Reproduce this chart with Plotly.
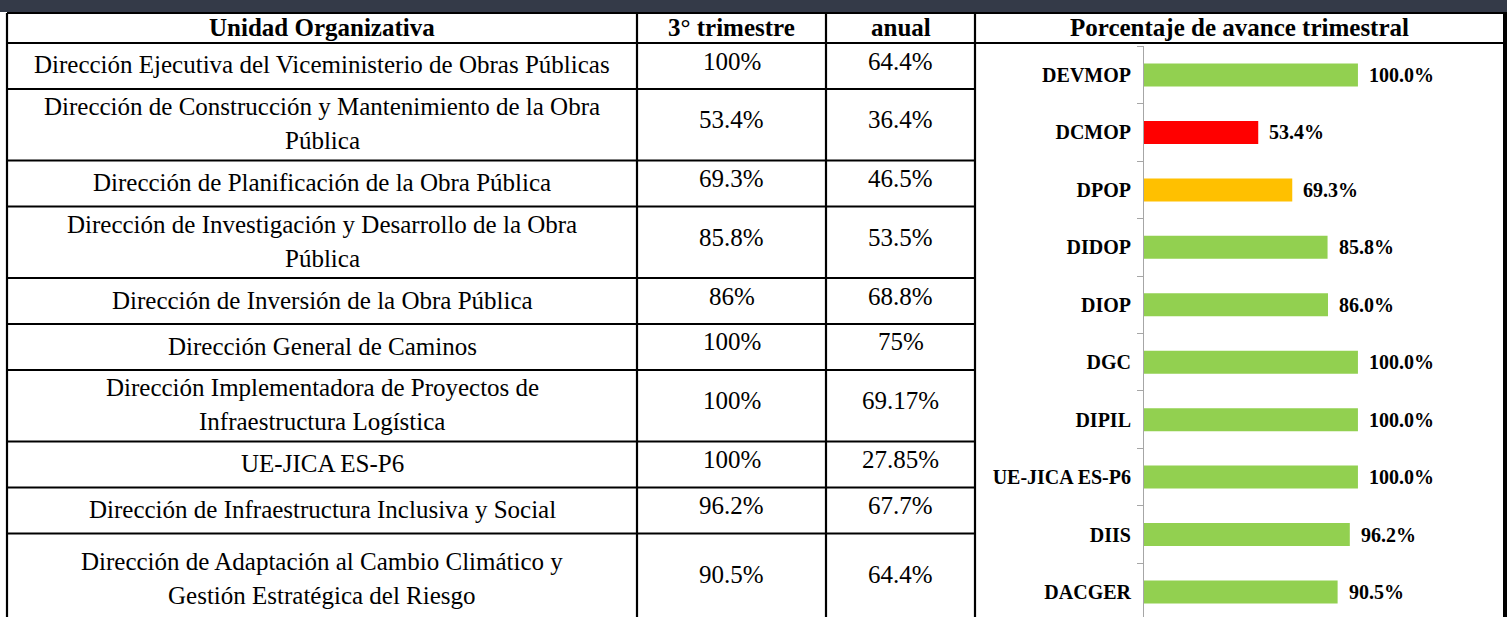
import plotly.graph_objects as go

# ---------------- data ----------------
headers = ["Unidad Organizativa", "3° trimestre", "anual", "Porcentaje de avance trimestral"]

units = [
    "Dirección Ejecutiva del Viceministerio de Obras Públicas",
    "Dirección de Construcción y Mantenimiento de la Obra<br>Pública",
    "Dirección de Planificación de la Obra Pública",
    "Dirección de Investigación y Desarrollo de la Obra<br>Pública",
    "Dirección de Inversión de la Obra Pública",
    "Dirección General de Caminos",
    "Dirección Implementadora de Proyectos de<br>Infraestructura Logística",
    "UE-JICA ES-P6",
    "Dirección de Infraestructura Inclusiva y Social",
    "Dirección de Adaptación al Cambio Climático y<br>Gestión Estratégica del Riesgo",
]
abbrev = ["DEVMOP", "DCMOP", "DPOP", "DIDOP", "DIOP", "DGC", "DIPIL",
          "UE-JICA ES-P6", "DIIS", "DACGER"]
q3 = [100, 53.4, 69.3, 85.8, 86, 100, 100, 100, 96.2, 90.5]
annual = [64.4, 36.4, 46.5, 53.5, 68.8, 75, 69.17, 27.85, 67.7, 64.4]

# ---------------- style ----------------
GREEN, RED, AMBER = "#92D050", "#FF0000", "#FFC000"
bar_colors = [GREEN, RED, AMBER, GREEN, GREEN, GREEN, GREEN, GREEN, GREEN, GREEN]

W, H = 1507, 617
COL_X = [7, 637, 826, 975, 1503]
BAND_H = 12
HEAD_TOP, HEAD_BOT = 13, 43
ROW_H_1, ROW_H_2, ROW_H_LAST = 46, 71.5, 92
LINE_GAP = 34
SERIF = "Liberation Serif, Times New Roman, serif"
BODY_SIZE, HEAD_SIZE, CHART_SIZE = 25, 25, 20
LINE_W = 2.2


def px(x):
    return x / W


def py(y):
    return 1 - y / H


fig = go.Figure()

# bar chart (right column)
fig.add_trace(go.Bar(
    x=q3, y=abbrev, orientation="h", width=0.4,
    marker=dict(color=bar_colors, line=dict(width=0)),
    hoverinfo="skip", showlegend=False,
))

shapes = []
annotations = []

# dark top band
shapes.append(dict(type="rect", xref="paper", yref="paper", x0=0, x1=1,
                   y0=py(BAND_H), y1=1, fillcolor="#343a48", line=dict(width=0),
                   layer="below"))


def hline(y, x0, x1):
    shapes.append(dict(type="line", xref="paper", yref="paper", x0=px(x0), x1=px(x1),
                       y0=py(y), y1=py(y), line=dict(color="black", width=LINE_W)))


def vline(x, y0, y1):
    shapes.append(dict(type="line", xref="paper", yref="paper", x0=px(x), x1=px(x),
                       y0=py(y0), y1=py(y1), line=dict(color="black", width=LINE_W)))


def text(x, y, s, size, bold=False):
    annotations.append(dict(xref="paper", yref="paper", x=px(x), y=py(y), text=s,
                            showarrow=False, xanchor="center", yanchor="middle",
                            font=dict(family=SERIF, size=size, color="black",
                                      weight="bold" if bold else "normal")))


# header row
hline(HEAD_TOP, COL_X[0], W)
hline(HEAD_BOT, COL_X[0], COL_X[-1])
for i, h in enumerate(headers):
    cx = (COL_X[i] + COL_X[i + 1]) / 2
    text(cx, (HEAD_TOP + HEAD_BOT) / 2, h, HEAD_SIZE, bold=True)

# body rows
top = HEAD_BOT
for r, name in enumerate(units):
    lines = name.split("<br>")
    if r == len(units) - 1:
        h = ROW_H_LAST
    else:
        h = ROW_H_1 if len(lines) == 1 else ROW_H_2
    cy = top + h / 2
    for k, ln in enumerate(lines):
        ly = cy + (k - (len(lines) - 1) / 2) * LINE_GAP - 1
        text((COL_X[0] + COL_X[1]) / 2, ly, ln, BODY_SIZE)
    text((COL_X[1] + COL_X[2]) / 2, cy - 5, f"{q3[r]:g}%", BODY_SIZE)
    text((COL_X[2] + COL_X[3]) / 2, cy - 5, f"{annual[r]:g}%", BODY_SIZE)
    top += h
    if r < len(units) - 1:
        hline(top, COL_X[0], COL_X[3])

# vertical borders
for x in COL_X[:4]:
    vline(x, HEAD_TOP, H)
shapes.append(dict(type="rect", xref="paper", yref="paper", x0=px(COL_X[-1]), x1=1,
                   y0=0, y1=py(HEAD_TOP), fillcolor="black", line=dict(width=0)))

# value labels on bars
for v, c in zip(q3, abbrev):
    annotations.append(dict(xref="x", yref="y", x=v, y=c, text=f"{v:.1f}%",
                            showarrow=False, xanchor="left", yanchor="middle", xshift=9,
                            font=dict(family=SERIF, size=CHART_SIZE, color="black",
                                      weight="bold")))

CHART_L, CHART_R, CHART_T = 1144, 1497, 46.3
BAND = 57.44
y_bottom_idx = -0.5 + (H - CHART_T) / BAND

fig.update_layout(
    width=W, height=H,
    margin=dict(l=0, r=0, t=0, b=0),
    paper_bgcolor="white", plot_bgcolor="rgba(0,0,0,0)",
    shapes=shapes, annotations=annotations,
    bargap=0.6,
    xaxis=dict(domain=[px(CHART_L), px(CHART_R)], range=[0, 165], visible=False,
               fixedrange=True),
    yaxis=dict(domain=[0, py(CHART_T)], type="category", categoryorder="array",
               categoryarray=abbrev, range=[y_bottom_idx, -0.5],
               showline=True, linecolor="#A6A6A6", linewidth=1,
               ticks="outside", tickson="boundaries", ticklen=6, tickcolor="#A6A6A6",
               tickwidth=1, showgrid=False, zeroline=False, ticklabelstandoff=8,
               tickfont=dict(family=SERIF, size=CHART_SIZE, color="black", weight="bold"),
               fixedrange=True),
)

fig.write_html("out.html", config={"displayModeBar": False},
               post_script="document.body.style.margin='0';document.body.style.overflow='hidden';")
